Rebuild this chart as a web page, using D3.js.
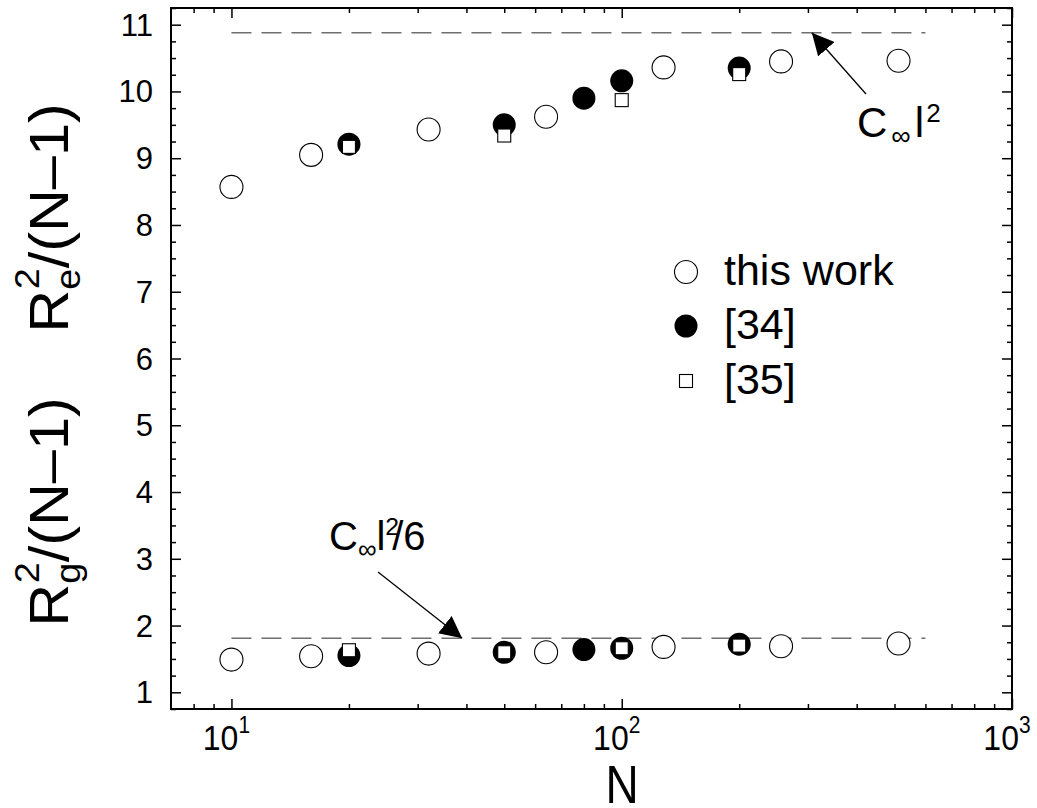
<!DOCTYPE html>
<html>
<head>
<meta charset="utf-8">
<script src="https://cdn.jsdelivr.net/npm/d3@7"></script>
<style>
  body { margin: 0; background: white; }
  text { font-family: "Liberation Sans", Arial, sans-serif; fill: black; }
</style>
</head>
<body>
<script>

// N values and reduced sizes
var nThis = [10, 16, 32, 64, 128, 256, 512];
var reThis = [8.57, 9.05, 9.43, 9.62, 10.36, 10.45, 10.46];
var rgThis = [1.49, 1.54, 1.58, 1.60, 1.68, 1.69, 1.73];

var n34 = [20, 50, 80, 100, 200];
var re34 = [9.21, 9.50, 9.90, 10.16, 10.35];
var rg34 = [1.55, 1.60, 1.64, 1.66, 1.72];

var n35 = [20, 50, 100, 200];
var re35 = [9.17, 9.34, 9.87, 10.26];
var rg35 = [1.63, 1.60, 1.66, 1.70];

// asymptotes C_inf l^2 and C_inf l^2 / 6
var limitN = [10, 600];
var limitRe = 10.88;
var limitRg = 1.81;

var yTicks = [1, 2, 3, 4, 5, 6, 7, 8, 9, 10, 11];
var xMajor = [10, 100, 1000];
var xMinor = [8, 9, 20, 30, 40, 50, 60, 70, 80, 90, 200, 300, 400, 500, 600, 700, 800, 900];
var legendLabels = ['this work', '[34]', '[35]'];

var W = 1037, H = 808;
var mLeft = 171, mRight = 1012, mTop = 8, mBottom = 709;

var svg = d3.select('body').append('svg')
      .attr('width', W)
      .attr('height', H);

var x = d3.scaleLog().domain([7, 1000]).range([mLeft, mRight]);
var y = d3.scaleLinear().domain([0.75, 11.25]).range([mBottom, mTop]);

var yMinor = d3.range(0.75, 11.26, 0.25).filter(function(d) { return Math.abs(d - Math.round(d)) > 0.01; });

// ---- axes (ticks point inward on all four sides)
function noLabels(g) { g.selectAll('text').remove(); g.select('.domain').remove(); }

svg.append('g').attr('transform', 'translate(0,' + mBottom + ')')
    .call(d3.axisBottom(x).tickValues(xMinor).tickSize(-5).tickFormat(''))
    .call(noLabels);
svg.append('g').attr('transform', 'translate(0,' + mBottom + ')')
    .call(d3.axisBottom(x).tickValues(xMajor).tickSize(-10).tickFormat(''))
    .call(noLabels);
svg.append('g').attr('transform', 'translate(0,' + mTop + ')')
    .call(d3.axisTop(x).tickValues(xMinor).tickSize(-5).tickFormat(''))
    .call(noLabels);
svg.append('g').attr('transform', 'translate(0,' + mTop + ')')
    .call(d3.axisTop(x).tickValues(xMajor).tickSize(-10).tickFormat(''))
    .call(noLabels);

svg.append('g').attr('transform', 'translate(' + mLeft + ',0)')
    .call(d3.axisLeft(y).tickValues(yMinor).tickSize(-5).tickFormat(''))
    .call(noLabels);
svg.append('g').attr('transform', 'translate(' + mLeft + ',0)')
    .call(d3.axisLeft(y).tickValues(yTicks).tickSize(-10).tickFormat(''))
    .call(noLabels);
svg.append('g').attr('transform', 'translate(' + mRight + ',0)')
    .call(d3.axisRight(y).tickValues(yMinor).tickSize(-5).tickFormat(''))
    .call(noLabels);
svg.append('g').attr('transform', 'translate(' + mRight + ',0)')
    .call(d3.axisRight(y).tickValues(yTicks).tickSize(-10).tickFormat(''))
    .call(noLabels);

svg.selectAll('.tick line').attr('stroke', 'black').attr('stroke-width', 1.5);

// y tick labels
svg.selectAll('.ylab')
    .data(yTicks)
  .enter().append('text')
    .attr('class', 'ylab')
    .attr('x', mLeft - 18)
    .attr('y', function(d) { return y(d) + 11; })
    .attr('text-anchor', 'end')
    .style('font-size', '31px')
    .text(function(d) { return d; });

// x tick labels 10^k
var xl = svg.selectAll('.xlab')
    .data(xMajor)
  .enter().append('text')
    .attr('class', 'xlab')
    .attr('transform', function(d) { return 'translate(' + (x(d) - 5) + ',' + (mBottom + 41) + ') scale(1,1.12)'; })
    .attr('text-anchor', 'middle')
    .style('font-size', '32px');
xl.append('tspan').text('10');
xl.append('tspan').attr('dy', -15).style('font-size', '21px')
    .text(function(d) { return Math.round(Math.log10(d)); });

// frame
svg.append('rect')
    .attr('x', mLeft).attr('y', mTop)
    .attr('width', mRight - mLeft).attr('height', mBottom - mTop)
    .attr('fill', 'none')
    .attr('stroke', 'black')
    .attr('stroke-width', 2);

// axis titles
svg.append('text')
    .attr('transform', 'translate(622,803) scale(1,1.15)')
    .attr('text-anchor', 'middle')
    .style('font-size', '46px')
    .text('N');

function yTitle(cy, sub) {
  var t = svg.append('text')
      .attr('transform', 'translate(68,' + cy + ') rotate(-90) scale(1.08,1)')
      .attr('text-anchor', 'middle')
      .style('font-size', '55px');
  t.append('tspan').text('R');
  t.append('tspan').attr('dy', 12).style('font-size', '35px').text(sub);
  t.append('tspan').attr('dx', -19).attr('dy', -41).style('font-size', '35px').text('2');
  t.append('tspan').attr('dy', 29).text('/(N\u20131)');
}
yTitle(512, 'g');
yTitle(218, 'e');

// dashed asymptotes
var line = d3.line().x(function(d) { return x(d[0]); }).y(function(d) { return y(d[1]); });
[limitRe, limitRg].forEach(function(v) {
  svg.append('path')
      .attr('d', line(limitN.map(function(n) { return [n, v]; })))
      .attr('fill', 'none')
      .attr('stroke', '#6e6e6e')
      .attr('stroke-width', 1.5)
      .attr('stroke-dasharray', '20,10');
});

// markers
function openCircles(ns, vs) {
  svg.append('g').selectAll('circle')
      .data(ns)
    .enter().append('circle')
      .attr('cx', function(d) { return x(d); })
      .attr('cy', function(d, i) { return y(vs[i]); })
      .attr('r', 11.5)
      .attr('fill', 'white')
      .attr('stroke', 'black')
      .attr('stroke-width', 1.1);
}
function filledCircles(ns, vs) {
  svg.append('g').selectAll('circle')
      .data(ns)
    .enter().append('circle')
      .attr('cx', function(d) { return x(d); })
      .attr('cy', function(d, i) { return y(vs[i]); })
      .attr('r', 11.5)
      .attr('fill', 'black');
}
function squares(ns, vs) {
  svg.append('g').selectAll('rect')
      .data(ns)
    .enter().append('rect')
      .attr('x', function(d) { return x(d) - 6.5; })
      .attr('y', function(d, i) { return y(vs[i]) - 6.5; })
      .attr('width', 13)
      .attr('height', 13)
      .attr('fill', 'white')
      .attr('stroke', 'black')
      .attr('stroke-width', 1.1);
}
openCircles(nThis, reThis);
openCircles(nThis, rgThis);
filledCircles(n34, re34);
filledCircles(n34, rg34);
squares(n35, re35);
squares(n35, rg35);

// legend
var legY = [272, 326, 381];
var lg = svg.append('g');
lg.append('circle').attr('cx', 686).attr('cy', legY[0]).attr('r', 11.5)
    .attr('fill', 'white').attr('stroke', 'black').attr('stroke-width', 1.1);
lg.append('circle').attr('cx', 686).attr('cy', legY[1]).attr('r', 11.5).attr('fill', 'black');
lg.append('rect').attr('x', 679.5).attr('y', legY[2] - 6.5).attr('width', 13).attr('height', 13)
    .attr('fill', 'white').attr('stroke', 'black').attr('stroke-width', 1.1);
lg.selectAll('text')
    .data(legendLabels)
  .enter().append('text')
    .attr('x', 724)
    .attr('y', function(d, i) { return legY[i] + 13; })
    .style('font-size', '43px')
    .text(function(d) { return d; });

// annotations with arrows
svg.append('defs').append('marker')
    .attr('id', 'head')
    .attr('viewBox', '0 0 10 10')
    .attr('refX', 10).attr('refY', 5)
    .attr('markerWidth', 22).attr('markerHeight', 22)
    .attr('markerUnits', 'userSpaceOnUse')
    .attr('orient', 'auto')
  .append('path')
    .attr('d', 'M0,0 L10,5 L0,10 Z')
    .attr('fill', 'black');

function arrow(x1, y1, x2, y2) {
  svg.append('line')
      .attr('x1', x1).attr('y1', y1)
      .attr('x2', x2).attr('y2', y2)
      .attr('stroke', 'black')
      .attr('stroke-width', 1.3)
      .attr('marker-end', 'url(#head)');
}
arrow(866, 94, x(307), y(limitRe));
arrow(378, 572, x(39), y(limitRg));

function cLabel(px, py, size, gap, tail) {
  var t = svg.append('text').attr('x', px).attr('y', py).style('font-size', size + 'px');
  t.append('tspan').text('C');
  t.append('tspan').attr('dx', gap).attr('dy', 8).style('font-size', (size * 0.65) + 'px').text('\u221e');
  t.append('tspan').attr('dx', gap).attr('dy', -8).text('l');
  t.append('tspan').attr('dx', gap / 2).attr('dy', -15).style('font-size', (size * 0.62) + 'px').text('2');
  if (tail) t.append('tspan').attr('dx', -7).attr('dy', 15).text(tail);
}
cLabel(857, 137, 42, 4, null);
cLabel(329, 550, 40, 0, '/6');

</script>
</body>
</html>
